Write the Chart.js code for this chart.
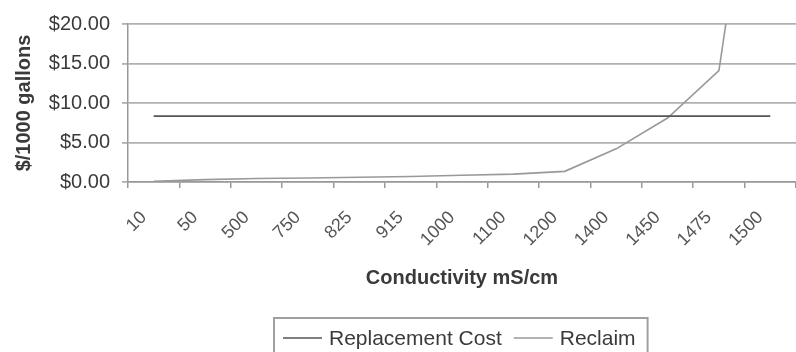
<html>
<head>
<meta charset="UTF-8">
<script src="https://cdn.jsdelivr.net/npm/chart.js"></script>
<style>
  html, body { margin: 0; padding: 0; background: #fff; }
  canvas { display: block; }
</style>
</head>
<body>
<canvas id="myChart" width="796" height="352"></canvas>
<script>
// data
const conductivity = ['10', '50', '500', '750', '825', '915', '1000', '1100', '1200', '1400', '1450', '1475', '1500'];
const replacementCost = [8.33, 8.33, 8.33, 8.33, 8.33, 8.33, 8.33, 8.33, 8.33, 8.33, 8.33, 8.33, 8.33];
const reclaim = [0.1, 0.3, 0.45, 0.5, 0.6, 0.7, 0.85, 1.0, 1.35, 4.2, 8.1, 14.1, 58];
const yTicks = [0, 5, 10, 15, 20];

const FONT = "'Liberation Sans', Arial, sans-serif";
const TEXT = '#3a3a3a';

// boxed legend at the bottom, like the spreadsheet one
const boxLegend = {
  id: 'boxLegend',
  afterDraw(chart) {
    const ctx = chart.ctx;
    ctx.save();
    ctx.font = '21px ' + FONT;
    const left = 274, top = 318;
    let x = left + 9;
    const y = 345;
    chart.data.datasets.forEach((ds, i) => {
      ctx.strokeStyle = ds.borderColor;
      ctx.lineWidth = 1.5;
      ctx.beginPath();
      ctx.moveTo(x, y - 7);
      ctx.lineTo(x + 39, y - 7);
      ctx.stroke();
      x += 46;
      ctx.fillStyle = TEXT;
      ctx.textBaseline = 'alphabetic';
      ctx.fillText(ds.label, x, y);
      x += ctx.measureText(ds.label).width + 12;
    });
    ctx.strokeStyle = '#a0a0a0';
    ctx.lineWidth = 2;
    ctx.strokeRect(left, top, x - left, 60);
    ctx.restore();
  }
};

new Chart(document.getElementById('myChart'), {
  type: 'line',
  data: {
    labels: conductivity,
    datasets: [
      {
        label: 'Replacement Cost',
        data: replacementCost,
        borderColor: '#555555',
        borderWidth: 1.8,
        pointRadius: 0,
        tension: 0
      },
      {
        label: 'Reclaim',
        data: reclaim,
        borderColor: '#999999',
        borderWidth: 1.6,
        pointRadius: 0,
        tension: 0
      }
    ]
  },
  options: {
    responsive: false,
    animation: false,
    devicePixelRatio: 1,
    layout: { padding: { top: 21, right: 0, bottom: 0, left: 0 } },
    plugins: {
      legend: { display: false },
      tooltip: { enabled: false }
    },
    scales: {
      x: {
        offset: true,
        afterFit(scale) {
          scale.height = 170;
          scale.paddingLeft = 0;
          scale.paddingRight = 0;
        },
        grid: {
          offset: true,
          drawOnChartArea: false,
          drawTicks: true,
          tickLength: 6,
          color: '#999999',
          lineWidth: 1.5
        },
        border: { color: '#999999', width: 1.5 },
        ticks: {
          autoSkip: false,
          maxRotation: 45,
          minRotation: 45,
          labelOffset: -10,
          padding: 19,
          color: '#555555',
          font: { family: FONT, size: 18 }
        },
        title: {
          display: true,
          text: 'Conductivity mS/cm',
          color: TEXT,
          font: { family: FONT, size: 20, weight: 'bold' },
          padding: { top: 0, bottom: 62 }
        }
      },
      y: {
        min: 0,
        max: 20,
        afterFit(scale) { scale.width = 128; },
        afterBuildTicks(scale) { scale.ticks = yTicks.map(v => ({ value: v })); },
        grid: {
          color: '#b0b0b0',
          lineWidth: 1.8,
          drawTicks: true,
          tickLength: 6
        },
        border: { color: '#999999', width: 1.5 },
        ticks: {
          padding: 12,
          color: TEXT,
          font: { family: FONT, size: 20 },
          callback: v => '$' + Number(v).toFixed(2)
        },
        title: {
          display: true,
          text: '$/1000 gallons',
          color: TEXT,
          font: { family: FONT, size: 20, weight: 'bold' },
          padding: { top: 12, bottom: 0 }
        }
      }
    }
  },
  plugins: [boxLegend]
});
</script>
</body>
</html>
